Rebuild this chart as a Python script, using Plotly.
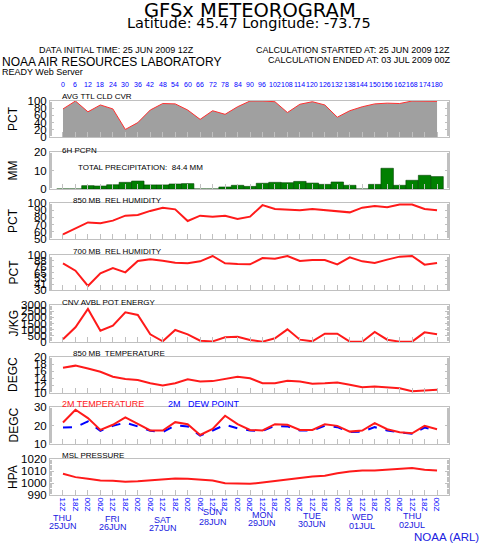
import plotly.graph_objects as go

# ---------------- data ----------------
hours = [0, 6, 12, 18, 24, 30, 36, 42, 48, 54, 60, 66, 72, 78, 84, 90, 96, 102,
         108, 114, 120, 126, 132, 138, 144, 150, 156, 162, 168, 174, 180]
hour_labels = ["0", "6", "12", "18", "24", "30", "36", "42", "48", "54", "60", "66",
               "72", "78", "84", "90", "96", "102", "108", "114", "120", "126", "132",
               "138", "144", "150", "156", "162", "168", "174", "180"]
zulu_labels = ["12Z", "18Z", "00Z", "06Z", "12Z", "18Z", "00Z", "06Z", "12Z", "18Z",
               "00Z", "06Z", "12Z", "18Z", "00Z", "06Z", "12Z", "18Z", "00Z", "06Z",
               "12Z", "18Z", "00Z", "06Z", "12Z", "18Z", "00Z", "06Z", "12Z", "18Z", "00Z"]
day_hours = [0, 24, 48, 72, 96, 120, 144, 168]
day_names = ["THU", "FRI", "SAT", "SUN", "MON", "TUE", "WED", "THU"]
day_dates = ["25JUN", "26JUN", "27JUN", "28JUN", "29JUN", "30JUN", "01JUL", "02JUL"]

cloud = [78, 100, 70, 89, 78, 21, 40, 75, 93, 92, 75, 49, 73, 63, 84, 100,
         100, 98, 68, 91, 98, 89, 55, 73, 84, 92, 94, 93, 100, 100, 99]
precip = [0, 0, 1.8, 1.6, 2.3, 3.6, 4.3, 2.2, 2.2, 2.7, 2.9, 0, 0, 1.1, 2.0, 1.4,
          3.1, 3.6, 3.4, 4.1, 3.2, 2.5, 3.8, 2.0, 0, 2.5, 11.2, 2.0, 4.7, 7.4, 6.7]
rh850 = [56.5, 64.8, 73, 71.8, 75.5, 82.4, 83.3, 89, 93.5, 91.2, 75, 82.4, 81, 82.4,
         77.8, 81, 97, 91.7, 90.3, 89.8, 91.7, 90, 88, 87, 93.5, 95.8, 94, 98, 98, 91.7, 90]
rh700 = [83.3, 68.7, 38, 63.3, 74, 65.3, 88, 91.3, 88.7, 84.7, 83.3, 87.3, 98, 83.3,
         82, 81.3, 94, 92.7, 98, 88, 90, 90, 81.3, 95.3, 87.3, 84, 90.7, 96.7, 98, 80.7, 84]
cape = [216, 1190, 2676, 919, 1324, 2405, 2190, 622, 60, 973, 622, 108, 50, 378, 432,
        162, 27, 297, 1027, 189, 54, 676, 676, 27, 27, 811, 189, 27, 27, 784, 622]
t850 = [17.0, 17.6, 16.8, 15.9, 14.5, 13.9, 13.6, 12.7, 12.1, 12.7, 13.8, 13.2, 13.3,
        13.9, 14.5, 14.1, 12.7, 12.7, 13.4, 13.2, 12.6, 12.7, 12.9, 12.3, 11.6, 11.8,
        11.6, 11.3, 10.5, 10.8, 10.9]
t2m = [21.6, 28.5, 24.0, 17.6, 20.4, 24.4, 20.9, 17.3, 17.3, 21.8, 20.7, 14.9, 18.2,
       25.3, 20.7, 17.6, 17.3, 20.7, 20.4, 17.6, 17.6, 20.7, 19.8, 16.7, 17.3, 21.3,
       18.0, 16.4, 15.8, 19.8, 18.0]
td2m = [18.9, 19.1, 22.2, 17.1, 19.8, 21.6, 19.5, 17.1, 16.5, 20.0, 19.5, 14.5, 17.3,
        20.4, 18.5, 17.3, 17.1, 19.8, 19.5, 17.3, 17.3, 19.8, 19.1, 16.4, 16.7, 19.1,
        17.3, 16.2, 15.5, 18.9, 17.3]
mslp = [1007.7, 1004.9, 1003.5, 1002.1, 1001.8, 1001.0, 1001.5, 1002.4, 1003.5, 1003.8,
        1003.5, 1002.6, 1002.1, 999.8, 999.8, 999.3, 1000.4, 1001.8, 1003.2, 1004.0,
        1005.4, 1006.0, 1008.2, 1009.6, 1010.5, 1010.5, 1011.0, 1011.6, 1012.4, 1011.0, 1010.5]

ytickvals = [[0, 20, 40, 60, 80, 100], [0, 10, 20], [50, 60, 70, 80, 90, 100],
             [30, 41.67, 53.33, 65, 76.67, 88.33, 100],
             [0, 500, 1000, 1500, 2000, 2500, 3000], [10, 12, 14, 16, 18, 20],
             [10, 20, 30], [990, 1000, 1010, 1020]]
yticktext = [["0", "20", "40", "60", "80", "100"], ["0", "10", "20"],
             ["50", "60", "70", "80", "90", "100"],
             ["30", "41", "53", "65", "76", "88", "100"],
             ["0", "500", "1000", "1500", "2000", "2500", "3000"],
             ["10", "12", "14", "16", "18", "20"], ["10", "20", "30"],
             ["990", "1000", "1010", "1020"]]
yranges = [[0, 100], [0, 20], [50, 100], [30, 100], [0, 3000], [10, 20], [10, 30], [990, 1020]]
ytitles = ["PCT", "MM", "PCT", "PCT", "J/KG", "DEGC", "DEGC", "HPA"]

# ---------------- layout helpers ----------------
W, H = 480, 545
L, R, T, B = 50, 449, 101, 495
PW, PH = R - L, B - T


def px(x):
    return (x - L) / PW


def py(y):
    return (B - y) / PH


FONT = "Liberation Sans, Arial, Helvetica, sans-serif"
WIDE = "DejaVu Sans, Verdana, sans-serif"
RED = "#ff1a1a"
BLUE = "#0000ff"
FRAME = "#c0c0c0"

# panel pixel extents (top, bottom)
panels = [(101, 137), (152, 189), (203, 239), (255, 290),
          (305, 342), (357, 393), (407, 444), (459, 495)]

xr = [-6.25, 185.75]
layout = dict(width=W, height=H, margin=dict(l=L, r=W - R, t=T, b=H - B),
              paper_bgcolor="white", plot_bgcolor="white", showlegend=False,
              font=dict(family=FONT, color="black", size=11))

for i, (top, bot) in enumerate(panels):
    n = "" if i == 0 else str(i + 1)
    last = (i == len(panels) - 1)
    layout["xaxis" + n] = dict(
        domain=[0, 1], range=xr, anchor="y" + n, showgrid=False, zeroline=False,
        showline=True, linecolor=FRAME, linewidth=1, mirror=True,
        ticks="inside", ticklen=5, tickcolor=FRAME, tickwidth=1,
        tickvals=hours, ticktext=zulu_labels, showticklabels=last,
        tickangle=90, tickfont=dict(size=8, color=BLUE, family=FONT), fixedrange=True)
    layout["yaxis" + n] = dict(
        domain=[py(bot), py(top)], range=yranges[i], anchor="x" + n, showgrid=False,
        zeroline=False, showline=True, linecolor=FRAME, linewidth=1, mirror="ticks",
        ticks="inside", ticklen=4, tickcolor=FRAME,
        minor=dict(ticks="inside", ticklen=2, tickcolor=FRAME, nticks=12),
        tickvals=ytickvals[i], ticktext=yticktext[i],
        tickfont=dict(size=11.5, color="black", family=FONT), fixedrange=True)

fig = go.Figure()
fig.update_layout(**layout)

# ---------------- traces ----------------
fig.add_trace(go.Scatter(x=hours, y=cloud, mode="lines", fill="tozeroy",
                         fillcolor="#a0a0a0", line=dict(color="#ff3030", width=1),
                         xaxis="x", yaxis="y"))
fig.add_trace(go.Bar(x=hours, y=precip, width=6, marker=dict(color="#008000",
                     line=dict(color="#004000", width=0.6)), xaxis="x2", yaxis="y2"))
fig.add_trace(go.Scatter(x=hours, y=rh850, mode="lines", line=dict(color=RED, width=2),
                         xaxis="x3", yaxis="y3"))
fig.add_trace(go.Scatter(x=hours, y=rh700, mode="lines", line=dict(color=RED, width=2),
                         xaxis="x4", yaxis="y4"))
fig.add_trace(go.Scatter(x=hours, y=cape, mode="lines", line=dict(color=RED, width=2),
                         xaxis="x5", yaxis="y5"))
fig.add_trace(go.Scatter(x=hours, y=t850, mode="lines", line=dict(color=RED, width=2),
                         xaxis="x6", yaxis="y6"))
fig.add_trace(go.Scatter(x=hours, y=td2m, mode="lines",
                         line=dict(color=BLUE, width=2, dash="dash"),
                         xaxis="x7", yaxis="y7"))
fig.add_trace(go.Scatter(x=hours, y=t2m, mode="lines", line=dict(color=RED, width=2),
                         xaxis="x7", yaxis="y7"))
fig.add_trace(go.Scatter(x=hours, y=mslp, mode="lines", line=dict(color=RED, width=2),
                         xaxis="x8", yaxis="y8"))

# ---------------- annotations ----------------
ann = []


def text(x, y, s, size=8, color="black", xanchor="left", xref="paper", angle=0,
         family=FONT):
    ann.append(dict(x=x, y=py(y), xref=xref, yref="paper", text=s, showarrow=False,
                    xanchor=xanchor, yanchor="middle", textangle=angle,
                    font=dict(family=family, size=size, color=color)))


text(px(250), 10, "GFSx METEOROGRAM", size=19.5, xanchor="center", family=WIDE)
text(px(248.5), 23, "Latitude: 45.47 Longitude: -73.75", size=14.5, xanchor="center",
     family=WIDE)
text(px(116), 50, "DATA INITIAL TIME: 25 JUN 2009 12Z", size=9, xanchor="center")
text(px(0), 62, "NOAA AIR RESOURCES LABORATORY", size=12)
text(px(0), 72, "READY Web Server", size=9)
text(px(452), 50, "CALCULATION STARTED AT: 25 JUN 2009 12Z", size=9, xanchor="right")
text(px(452), 60, "CALCULATION ENDED AT: 03 JUL 2009 00Z", size=9, xanchor="right")

for h, lab in zip(hours, hour_labels):
    text(h, 84, lab, size=7, color=BLUE, xanchor="center", xref="x")

text(px(60), 97, "AVG TTL CLD CVR", size=8)
text(px(60), 150, "6H PCPN", size=8)
text(px(76), 167, "TOTAL PRECIPITATION:  84.4 MM", size=8)
text(px(71), 200, "850 MB  REL HUMIDITY", size=8)
text(px(71), 251, "700 MB  REL HUMIDITY", size=8)
text(px(60), 302, "CNV AVBL POT ENERGY", size=8)
text(px(71), 353, "850 MB  TEMPERATURE", size=8)
text(px(60), 404, "2M TEMPERATURE", size=9, color=RED)
text(px(166), 404, "2M   DEW POINT", size=9, color=BLUE)
text(px(60), 455, "MSL PRESSURE", size=8)

for (top, bot), lab in zip(panels, ytitles):
    text(px(13), (top + bot) / 2, lab, size=12, xanchor="center", angle=-90)

day_y = [(518, 526), (519, 527), (520, 528), (512, 522),
         (515, 523), (516, 524), (517, 526), (516, 525)]
for h, nm, dt, (y1, y2) in zip(day_hours, day_names, day_dates, day_y):
    text(h, y1, nm, size=9, color="#2020e0", xanchor="center", xref="x")
    text(h, y2, dt, size=9, color="#2020e0", xanchor="center", xref="x")

text(px(481), 537, "NOAA (ARL)", size=11.5, color="#2020e0", xanchor="right")

fig.update_layout(annotations=ann)
fig.write_html("out.html", config={"displayModeBar": False},
               post_script="document.body.style.margin='0';document.body.style.padding='0';")
